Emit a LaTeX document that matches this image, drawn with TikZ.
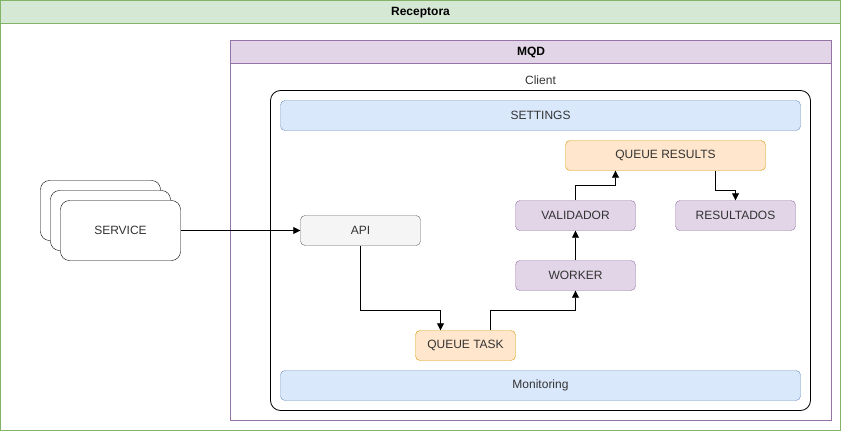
\documentclass[tikz,border=0pt]{standalone}
\usepackage{fontspec}
\setmainfont{Liberation Sans}
\usetikzlibrary{arrows.meta}

\definecolor{greenline}{HTML}{82B366}
\definecolor{greenfill}{HTML}{D5E8D4}
\definecolor{purpleline}{HTML}{9673A6}
\definecolor{purplefill}{HTML}{E1D5E7}
\definecolor{blueline}{HTML}{6C8EBF}
\definecolor{bluefill}{HTML}{DAE8FC}
\definecolor{orangeline}{HTML}{D79B00}
\definecolor{orangefill}{HTML}{FFE6CC}
\definecolor{greyline}{HTML}{666666}
\definecolor{greyfill}{HTML}{F5F5F5}
\definecolor{textgrey}{HTML}{333333}

\tikzset{
  box/.style={rectangle, rounded corners=4.5pt, minimum height=30pt, text=textgrey,
    font=\fontsize{12}{14}\selectfont, inner sep=0pt},
  bluebox/.style={box, draw=blueline, fill=bluefill, minimum width=520pt},
  purplebox/.style={box, draw=purpleline, fill=purplefill, minimum width=120pt},
  orangebox/.style={box, draw=orangeline, fill=orangefill},
  greybox/.style={box, draw=greyline, fill=greyfill, minimum width=120pt},
  servicebox/.style={rectangle, rounded corners=9pt, draw, fill=white, minimum width=120pt,
    minimum height=60pt, font=\fontsize{12}{14}\selectfont, text=textgrey, inner sep=0pt},
  flow/.style={draw, -{Triangle[length=7pt,width=7pt]}, line width=0.8pt},
  lanetitle/.style={font=\bfseries\fontsize{12}{14}\selectfont, text=black}
}

\begin{document}
\begin{tikzpicture}[x=1pt, y=-1pt]
  \useasboundingbox (-0.5,-0.5) rectangle (840.5,430.5);

  % Receptora
  \draw[greenline, fill=greenfill] (0,0) rectangle (840,23);
  \draw[greenline] (0,23) rectangle (840,430);
  \node[lanetitle] (receptora) at (420,12) {Receptora};

  % MQD
  \draw[purpleline, fill=purplefill] (230,40) rectangle (831,63);
  \draw[purpleline] (230,63) rectangle (831,420);
  \node[lanetitle] (mqd) at (530.5,52) {MQD};

  % Client
  \node[font=\fontsize{12}{14}\selectfont, text=textgrey] (clientlabel) at (540,80) {Client};
  \draw[rounded corners=10pt, line width=0.8pt] (270,90) rectangle (810,410);

  \node[bluebox] (settings) at (540,115) {SETTINGS};
  \node[bluebox] (monitoring) at (540,385) {Monitoring};

  \node[orangebox, minimum width=200pt] (queueresults) at (665,155) {QUEUE RESULTS};
  \node[purplebox] (validador) at (575,215) {VALIDADOR};
  \node[purplebox] (resultados) at (735,215) {RESULTADOS};
  \node[purplebox] (worker) at (575,275) {WORKER};
  \node[orangebox, minimum width=100pt] (queuetask) at (465,345) {QUEUE TASK};
  \node[greybox] (api) at (360,230) {API};

  % services stack
  \node[servicebox] (service3) at (100,210) {};
  \node[servicebox] (service2) at (110,220) {};
  \node[servicebox] (service) at (120,230) {SERVICE};

  % connectors
  \draw[flow] (service) -- (api);
  \draw[flow] (api.south) -- ++(0,65) -| ([xshift=-25pt]queuetask.north);
  \draw[flow] ([xshift=25pt]queuetask.north) -- ++(0,-20) -| (worker.south);
  \draw[flow] (worker) -- (validador);
  \draw[flow] (validador.north) -- ++(0,-15) -| ([xshift=-50pt]queueresults.south);
  \draw[flow] ([xshift=50pt]queueresults.south) -- ++(0,20) -| (resultados.north);
\end{tikzpicture}
\end{document}
